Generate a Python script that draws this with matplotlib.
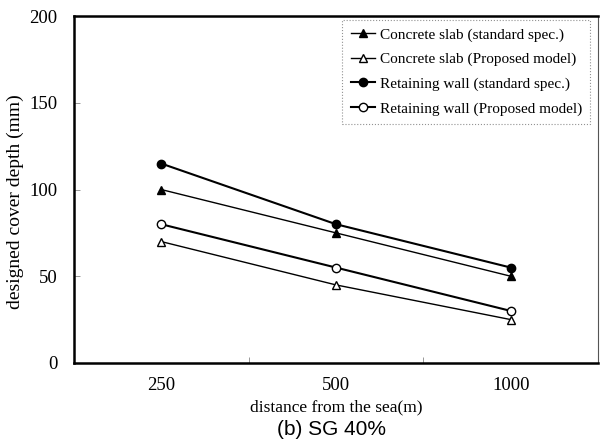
import numpy as np
import matplotlib.pyplot as plt

# data
distances = ['250', '500', '1000']
slab_std = [100, 75, 50]
slab_prop = [70, 45, 25]
wall_std = [115, 80, 55]
wall_prop = [80, 55, 30]

plt.rcParams['font.family'] = ['Liberation Serif', 'DejaVu Serif']

fig = plt.figure(figsize=(6, 4.47), dpi=100)
ax = fig.add_axes([0.123, 0.188, 0.874, 0.776])

x = np.arange(1, len(distances) + 1)

ax.plot(x, slab_std, color='black', lw=1.0, marker='^', ms=6,
        mfc='black', mec='black', label='Concrete slab (standard spec.)')
ax.plot(x, slab_prop, color='black', lw=1.0, marker='^', ms=6,
        mfc='white', mec='black', label='Concrete slab (Proposed model)')
ax.plot(x, wall_std, color='black', lw=1.5, marker='o', ms=6,
        mfc='black', mec='black', label='Retaining wall (standard spec.)')
ax.plot(x, wall_prop, color='black', lw=1.5, marker='o', ms=6,
        mfc='white', mec='black', label='Retaining wall (Proposed model)')

ax.set_xlim(0.5, 3.5)
ax.set_ylim(0, 200)
ax.set_xticks(x)
ax.set_xticklabels(distances)
ax.set_xticks([1.5, 2.5], minor=True)
ax.set_yticks([0, 50, 100, 150, 200])
ax.tick_params(axis='x', which='major', length=0, labelsize=13.5, pad=10)
ax.tick_params(axis='x', which='minor', direction='in', length=4, width=0.6, color='#888888')
ax.tick_params(axis='y', direction='in', length=4, width=0.6, labelsize=13.5, pad=12, color='#888888')

for side in ['left', 'bottom', 'top']:
    ax.spines[side].set_linewidth(1.8)
ax.spines['right'].set_linewidth(0.8)
ax.spines['right'].set_color('#555555')

ax.set_xlabel('distance from the sea(m)', fontsize=12.5, labelpad=4)
ax.set_ylabel('designed cover depth (mm)', fontsize=14, labelpad=6)
ax.yaxis.set_label_coords(-0.095, 0.465)

leg = ax.legend(loc='upper right', bbox_to_anchor=(0.985, 0.99), fontsize=11,
                frameon=True, fancybox=False, handlelength=1.6, handletextpad=0.3,
                labelspacing=0.7, borderpad=0.55, borderaxespad=0.0)
leg.get_frame().set_edgecolor('#777777')
leg.get_frame().set_linestyle(':')
leg.get_frame().set_linewidth(0.8)

fig.text(0.553, 0.04, '(b) SG 40%', ha='center', va='center', fontsize=15,
         family='Liberation Sans')

fig.savefig('out.png', dpi=100)
